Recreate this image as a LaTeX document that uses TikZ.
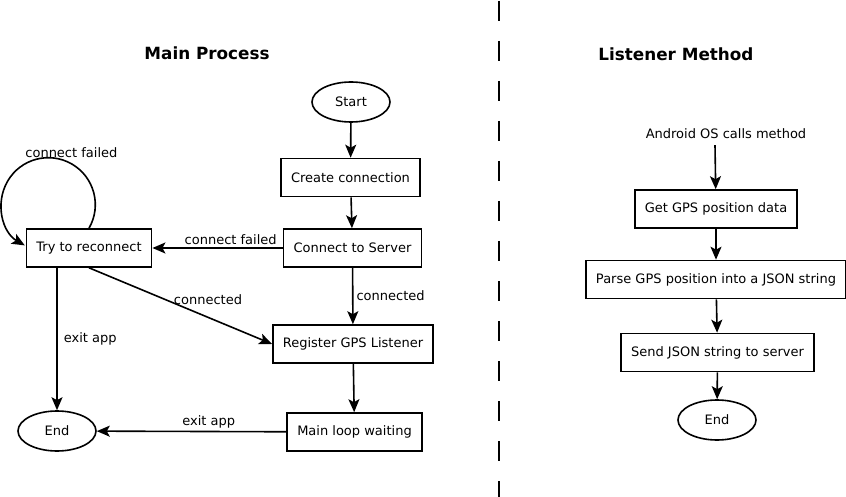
\documentclass[tikz,border=0pt]{standalone}
\usepackage{fontspec}
\setmainfont{DejaVu Sans}
\usetikzlibrary{arrows.meta,positioning,shapes.geometric}

\begin{document}
\begin{tikzpicture}[x=1pt, y=-1pt, >={Stealth[length=13pt,width=11pt,inset=3pt]},
      paso/.style={draw, line width=1.6pt, rectangle, minimum height=38pt,
                   inner xsep=10pt, font=\fontsize{13}{15}\selectfont},
      limite/.style={draw, line width=1.6pt, ellipse, minimum width=78pt,
                     minimum height=40pt, inner sep=0pt, font=\fontsize{13}{15}\selectfont},
      flecha/.style={->, line width=1.6pt},
      etiq/.style={font=\fontsize{13}{15}\selectfont, inner sep=3pt},
      titulo/.style={font=\fontsize{16.8}{19}\selectfont\bfseries}]
    \useasboundingbox (0,0) rectangle (846,497);

    % titles and separator
    \node[titulo] (tmain) at (207,53) {Main Process};
    \node[titulo] (tlist) at (676,54) {Listener Method};
    \draw[line width=2pt, dash pattern=on 20pt off 20pt] (499,1) -- (499,497);

    % main process
    \node[limite] (start) at (351,102) {Start};
    \node[paso] (create) at (350.5,177.5) {Create connection};
    \node[paso] (connect) at (352.5,248) {Connect to Server};
    \node[paso] (retry) at (89,248) {Try to reconnect};
    \node[paso] (register) at (353,344) {Register GPS Listener};
    \node[paso] (mainloop) at (354.5,432) {Main loop waiting};
    \node[limite] (endA) at (57,431) {End};

    \draw[flecha] (start) -- (create);
    \draw[flecha] (create) -- (connect);
    \draw[flecha] (connect) -- node[etiq, right] {connected} (register);
    \draw[flecha] (register) -- (mainloop);
    \draw[flecha] (connect) -- node[etiq, above, pos=0.4] {connect failed} (retry);
    \draw[flecha] (retry.south) -- node[etiq, pos=0.65, above=9pt] {connected} (register.west);
    \draw[flecha] ([xshift=-32pt]retry.south) -- node[etiq, right, xshift=3pt] {exit app} (endA);
    \draw[flecha] (mainloop) -- node[etiq, above, pos=0.41] {exit app} (endA);
    \draw[flecha] (retry.north) arc[start angle=30, end angle=-240, radius=47]
      node[etiq, pos=0.444, above, xshift=23pt, yshift=-4pt] {connect failed};

    % listener method
    \node[etiq, inner sep=6pt] (android) at (726,134) {Android OS calls method};
    \node[paso] (getpos) at (716,209) {Get GPS position data};
    \node[paso] (parse) at (716,279.5) {Parse GPS position into a JSON string};
    \node[paso] (send) at (717.5,352.5) {Send JSON string to server};
    \node[limite] (endB) at (717,420) {End};

    \draw[flecha] ([xshift=-11pt]android.south) -- (getpos);
    \draw[flecha] (getpos) -- (parse);
    \draw[flecha] (parse) -- (send);
    \draw[flecha] (send) -- (endB);
  \end{tikzpicture}
\end{document}
